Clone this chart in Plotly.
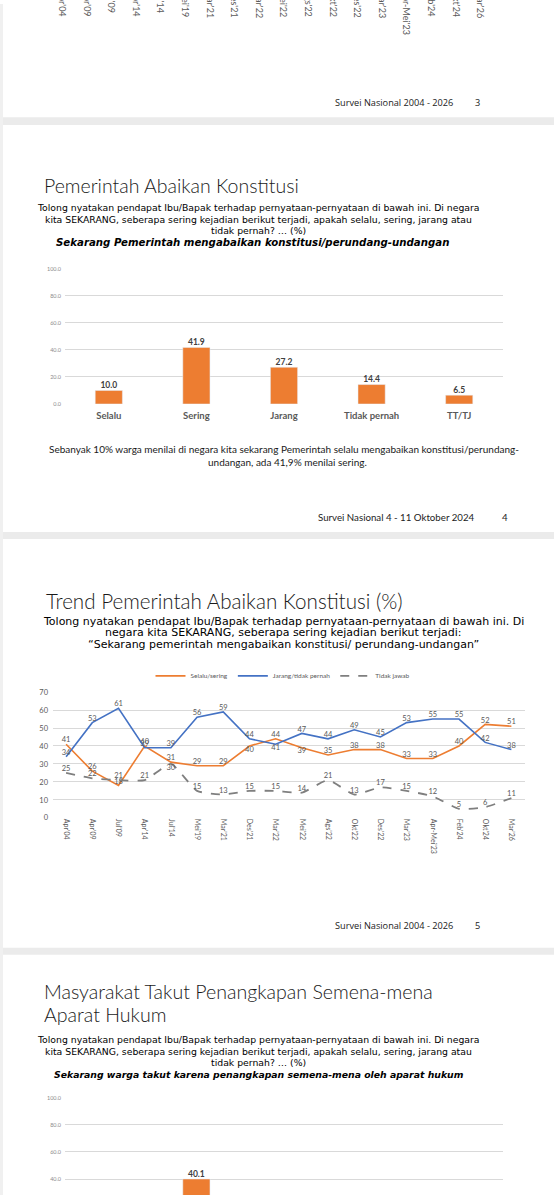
import plotly.graph_objects as go

# ---------------- data ----------------
periods = ["Apr'04", "Apr'09", "Jul'09", "Apr'14", "Jul'14", "Mei'19", "Mar'21", "Des'21",
           "Mar'22", "Mei'22", "Ags'22", "Okt'22", "Des'22", "Mar'23", "Apr-Mei'23",
           "Feb'24", "Okt'24", "Mar'26"]

bar_categories = ["Selalu", "Sering", "Jarang", "Tidak pernah", "TT/TJ"]
konstitusi_values = [10.0, 41.9, 27.2, 14.4, 6.5]
penangkapan_values = [9.2, 40.1, 26.2, 20.8, 3.7]

trend_selalu_sering = [41, 26, 18, 40, 31, 29, 29, 40, 44, 39, 35, 38, 38, 33, 33, 40, 52, 51]
trend_jarang_tidak = [34, 53, 61, 39, 39, 56, 59, 44, 41, 47, 44, 49, 45, 53, 55, 55, 42, 38]
trend_tidak_jawab = [25, 22, 21, 21, 30, 15, 13, 15, 15, 14, 21, 13, 17, 15, 12, 5, 6, 11]

pos_selalu = ["top center"] * 18
pos_selalu[7] = "bottom center"
pos_selalu[9] = "bottom center"
pos_jarang = ["top center"] * 18
pos_jarang[8] = "bottom center"
pos_tj = ["top center"] * 18
pos_tj[4] = "bottom center"

# ---------------- layout helpers ----------------
W, H = 554, 1200


def X(px):
    return px / W


def Y(py):
    return 1 - py / H


ORANGE = "#ED7D31"
BLUE = "#4472C4"
GREY = "#7F7F7F"
LBL = "#595959"
TITLE_FONT = "Lato"
Q_FONT = "DejaVu Sans"

n_per = len(periods)
n_bar = len(bar_categories)

fig = go.Figure()

# slide 2 bar chart
fig.add_trace(go.Bar(x=bar_categories, y=konstitusi_values, marker_color=ORANGE, width=0.31,
                     xaxis="x", yaxis="y", showlegend=False, hoverinfo="skip"))
fig.add_trace(go.Scatter(x=bar_categories, y=konstitusi_values, mode="text",
                         text=[f"{v:.1f}" for v in konstitusi_values], textposition="top center",
                         textfont=dict(family=TITLE_FONT, size=8.5, color="#404040", weight="bold"),
                         xaxis="x", yaxis="y", showlegend=False, cliponaxis=False, hoverinfo="skip"))

# slide 3 trend
fig.add_trace(go.Scatter(x=periods, y=trend_selalu_sering, mode="lines+text", name="Selalu/sering",
                         line=dict(color=ORANGE, width=1.6), text=[str(v) for v in trend_selalu_sering],
                         textposition=pos_selalu, textfont=dict(family=TITLE_FONT, size=7.5, color=LBL),
                         xaxis="x2", yaxis="y2", cliponaxis=False, hoverinfo="skip"))
fig.add_trace(go.Scatter(x=periods, y=trend_jarang_tidak, mode="lines+text", name="Jarang/tidak pernah",
                         line=dict(color=BLUE, width=1.6), text=[str(v) for v in trend_jarang_tidak],
                         textposition=pos_jarang, textfont=dict(family=TITLE_FONT, size=7.5, color=LBL),
                         xaxis="x2", yaxis="y2", cliponaxis=False, hoverinfo="skip"))
fig.add_trace(go.Scatter(x=periods, y=trend_tidak_jawab, mode="lines+text", name="Tidak jawab",
                         line=dict(color=GREY, width=1.8, dash="dash", shape="spline", smoothing=0.5),
                         text=[str(v) for v in trend_tidak_jawab],
                         textposition=pos_tj, textfont=dict(family=TITLE_FONT, size=7.5, color=LBL),
                         xaxis="x2", yaxis="y2", cliponaxis=False, hoverinfo="skip"))

# slide 4 bar chart (cut off by page bottom)
fig.add_trace(go.Bar(x=bar_categories, y=penangkapan_values, marker_color=ORANGE, width=0.31,
                     xaxis="x3", yaxis="y3", showlegend=False, hoverinfo="skip"))
fig.add_trace(go.Scatter(x=bar_categories, y=penangkapan_values, mode="text",
                         text=[f"{v:.1f}" for v in penangkapan_values], textposition="top center",
                         textfont=dict(family=TITLE_FONT, size=8.5, color="#404040", weight="bold"),
                         xaxis="x3", yaxis="y3", showlegend=False, cliponaxis=False, hoverinfo="skip"))

# slide 1 (only the ends of its rotated category labels are visible)
fig.add_trace(go.Scatter(x=periods, y=[0] * n_per, mode="markers", marker=dict(opacity=0),
                         xaxis="x4", yaxis="y4", showlegend=False, hoverinfo="skip"))

grid = "#D9D9D9"
bar_x_common = dict(domain=[X(65), X(503)], range=[-0.5, n_bar - 0.5], showgrid=False, showline=False,
                    zeroline=False, tickfont=dict(family=TITLE_FONT, size=9.5, color=LBL, weight="bold"),
                    ticklabelstandoff=5, fixedrange=True)
bar_y_common = dict(showgrid=True, gridcolor=grid, gridwidth=0.8, zeroline=False, showline=False,
                    tickformat=".1f", tickfont=dict(family=TITLE_FONT, size=5.5, color="#8C8C8C"),
                    ticklabelstandoff=3, fixedrange=True)

fig.update_layout(
    width=W, height=H, margin=dict(l=0, r=0, t=0, b=0),
    paper_bgcolor="white", plot_bgcolor="rgba(0,0,0,0)",
    xaxis=dict(**bar_x_common, anchor="y"),
    yaxis=dict(**bar_y_common, domain=[Y(403), Y(267)], range=[0, 100], dtick=20, anchor="x"),
    xaxis2=dict(domain=[X(53), X(524.5)], range=[-0.5, n_per - 0.5], anchor="y2", showgrid=False,
                showline=False, zeroline=False, tickangle=90, tickmode="linear", dtick=1,
                tickfont=dict(family=TITLE_FONT, size=7, color=LBL), fixedrange=True),
    yaxis2=dict(domain=[Y(820), Y(693.3)], anchor="x2", range=[0, 70], dtick=10, showgrid=True,
                gridcolor=grid, gridwidth=0.8, zeroline=False, showline=False,
                tickfont=dict(family=TITLE_FONT, size=7.5, color=LBL), ticklabelstandoff=4,
                fixedrange=True),
    xaxis3=dict(**bar_x_common, anchor="y3", showticklabels=False),
    yaxis3=dict(**bar_y_common, domain=[0, Y(1102)], range=[28.3, 100], tickvals=[40, 60, 80, 100],
                anchor="x3"),
    xaxis4=dict(domain=[X(49.7), X(492.5)], range=[-0.5, n_per - 0.5], anchor="y4", showgrid=False,
                showline=False, zeroline=False, tickangle=90, tickmode="linear", dtick=1,
                tickfont=dict(family=TITLE_FONT, size=9, color=LBL), ticklabelstandoff=-27,
                fixedrange=True),
    yaxis4=dict(domain=[Y(12), 1], anchor="x4", visible=False, fixedrange=True),
    legend=dict(orientation="h", x=X(283), xanchor="center", y=Y(677), yanchor="middle",
                font=dict(family=TITLE_FONT, size=6.5, color=LBL), bgcolor="rgba(0,0,0,0)",
                itemwidth=30, traceorder="normal"),
)

# page background: slide gaps and left border
shapes = []
for y0, y1 in [(114, 122), (532, 539), (951, 958)]:
    shapes.append(dict(type="rect", xref="paper", yref="paper", x0=0, x1=1, y0=Y(y1), y1=Y(y0),
                       fillcolor="#EBEBEB", line=dict(width=0), layer="below"))
shapes.append(dict(type="rect", xref="paper", yref="paper", x0=0, x1=X(3), y0=0, y1=1,
                   fillcolor="#F0F0F0", line=dict(width=0), layer="below"))
fig.update_layout(shapes=shapes)

ann = []


def txt(text, x, y, size, family, color="#000000", xanchor="center", weight="normal", style="normal"):
    ann.append(dict(text=text, x=X(x), y=Y(y), xref="paper", yref="paper", showarrow=False,
                    xanchor=xanchor, yanchor="middle",
                    font=dict(family=family, size=size, color=color, weight=weight, style=style)))


# footers
txt("Survei Nasional 2004 - 2026", 455, 99, 9.2, "Open Sans", "#222222", "right")
txt("3", 477, 99, 9.2, "Open Sans", "#222222")
txt("Survei Nasional 4 - 11 Oktober 2024", 477, 517, 9.7, TITLE_FONT, "#222222", "right")
txt("4", 505, 517, 9.7, TITLE_FONT, "#222222")
txt("Survei Nasional 2004 - 2026", 455, 928, 9.2, "Open Sans", "#222222", "right")
txt("5", 477, 928, 9.2, "Open Sans", "#222222")

# slide 2 texts
txt("Pemerintah Abaikan Konstitusi", 42, 183, 19.5, TITLE_FONT, "#1A1A1A", "left", weight=300)
q1 = "Tolong nyatakan pendapat Ibu/Bapak terhadap pernyataan-pernyataan di bawah ini. Di negara"
q2 = "kita SEKARANG, seberapa sering kejadian berikut terjadi, apakah selalu, sering, jarang atau"
q3 = "tidak pernah? … (%)"
txt(q1, 258, 205, 9.3, Q_FONT)
txt(q2, 258, 217, 9.3, Q_FONT)
txt(q3, 258, 228.5, 9.3, Q_FONT)
txt("Sekarang Pemerintah mengabaikan konstitusi/perundang-undangan", 252, 240.5, 10.2, Q_FONT,
    weight="bold", style="italic")
txt("Sebanyak 10% warga menilai di negara kita sekarang Pemerintah selalu mengabaikan konstitusi/perundang-",
    284, 448, 10, TITLE_FONT, "#1A1A1A")
txt("undangan, ada 41,9% menilai sering.", 287, 461, 10, TITLE_FONT, "#1A1A1A")

# slide 3 texts
txt("Trend Pemerintah Abaikan Konstitusi (%)", 44, 602, 20.6, TITLE_FONT, "#1A1A1A", "left", weight=300)
txt("Tolong nyatakan pendapat Ibu/Bapak terhadap pernyataan-pernyataan di bawah ini. Di",
    283, 622, 11, Q_FONT)
txt("negara kita SEKARANG, seberapa sering kejadian berikut terjadi:", 283, 633.5, 11, Q_FONT)
txt("“Sekarang pemerintah mengabaikan konstitusi/ perundang-undangan”", 283, 645, 11, Q_FONT)

# slide 4 texts
txt("Masyarakat Takut Penangkapan Semena-mena", 42, 995, 19.6, TITLE_FONT, "#1A1A1A", "left", weight=300)
txt("Aparat Hukum", 42, 1018, 19.6, TITLE_FONT, "#1A1A1A", "left", weight=300)
txt(q1, 258, 1043, 9.3, Q_FONT)
txt(q2, 258, 1055, 9.3, Q_FONT)
txt(q3, 258, 1067, 9.3, Q_FONT)
txt("Sekarang warga takut karena penangkapan semena-mena oleh aparat hukum", 259, 1079, 9.3, Q_FONT,
    weight="bold", style="italic")

fig.update_layout(annotations=ann)

fig.write_html("out.html", config={"displayModeBar": False},
               post_script="document.body.style.margin='0';")
